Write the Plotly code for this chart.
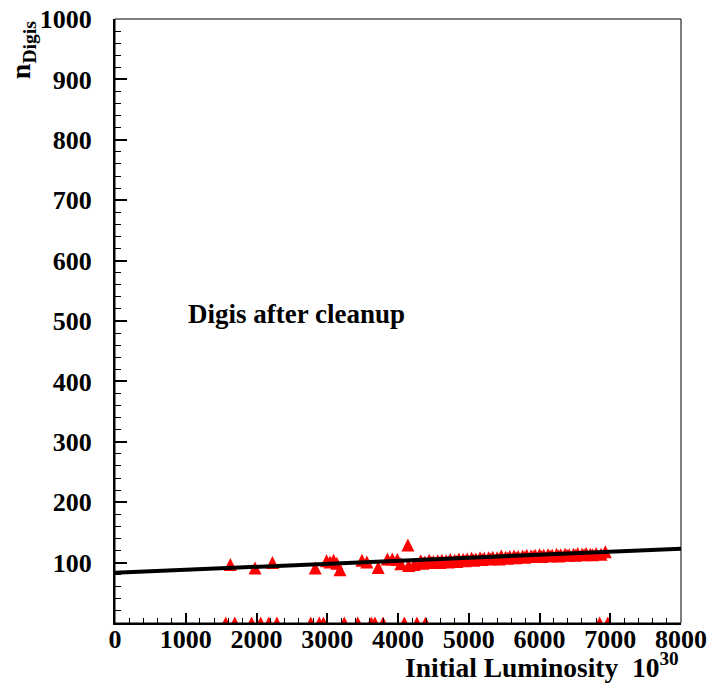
import plotly.graph_objects as go

# Initial luminosity (units of 10^30) and number of digits after cleanup
sparse_lumi = [1630, 1980, 2225, 2830, 2990, 3040, 3090, 3135, 3180, 3490, 3560,
               3720, 3850, 3920, 3990, 4040, 4140, 4150, 4230]
sparse_digis = [97, 91, 100, 91, 103, 101, 104, 99, 88, 104, 101,
                92, 106, 106, 105, 98, 129, 95, 97]

dense_lumi = [4320, 4380, 4440, 4500, 4560, 4620, 4680, 4740, 4800, 4860, 4920,
              4980, 5040, 5100, 5160, 5220, 5280, 5340, 5400, 5460, 5520, 5580,
              5640, 5700, 5760, 5820, 5880, 5940, 6000, 6060, 6120, 6180, 6240,
              6300, 6360, 6420, 6480, 6540, 6600, 6660, 6720, 6800, 6930]
dense_digis = [103, 101, 104, 102, 103, 104, 103, 105, 104, 106, 105,
               106, 107, 106, 108, 107, 108, 109, 108, 111, 109, 110,
               111, 110, 111, 112, 111, 112, 113, 112, 113, 112, 114,
               113, 114, 113, 114, 115, 114, 115, 114, 115, 118]

low_lumi = [4350, 4470, 4590, 4710, 4830, 4950, 5070, 5190, 5310, 5430, 5550,
            5670, 5790, 5910, 6030, 6150, 6270, 6390, 6510, 6630, 6750, 6870]
low_digis = [99, 100, 100, 101, 102, 103, 104, 105, 106, 106, 107,
             108, 109, 110, 110, 111, 111, 112, 112, 113, 113, 114]

zero_lumi = [1565, 1693, 1930, 2058, 2173, 2288, 2767, 2888, 2946, 3240, 3431,
             3623, 3674, 3789, 4089, 4268, 4390, 6850, 6965]
zero_digis = [0] * len(zero_lumi)

# Linear fit drawn across the full luminosity range
fit_lumi = [0, 8000]
fit_digis = [83, 123]

x_ticks = [0, 1000, 2000, 3000, 4000, 5000, 6000, 7000, 8000]
y_ticks = [100, 200, 300, 400, 500, 600, 700, 800, 900, 1000]

FONT = "Liberation Serif"
MSIZE = 13
marker = dict(symbol="arrow-down", angle=180, standoff=MSIZE / 2,
              size=MSIZE, color="#ff0000", line=dict(width=0))

fig = go.Figure()
for xs, ys in [(zero_lumi, zero_digis), (sparse_lumi, sparse_digis),
               (low_lumi, low_digis), (dense_lumi, dense_digis)]:
    fig.add_trace(go.Scatter(x=xs, y=ys, mode="markers", marker=marker,
                             cliponaxis=True, showlegend=False, hoverinfo="skip"))

fig.add_trace(go.Scatter(x=fit_lumi, y=fit_digis, mode="lines",
                         line=dict(color="black", width=4),
                         showlegend=False, hoverinfo="skip"))

axis_common = dict(showline=True, linecolor="black", linewidth=2,
                   ticks="inside", tickcolor="black", tickwidth=1.5,
                   showgrid=False, zeroline=False, automargin=False,
                   tickfont=dict(family=FONT, size=26, color="black", weight="bold"))

fig.update_xaxes(range=[0, 8000], tickvals=x_ticks, ticklen=10,
                 ticklabelstandoff=-8,
                 minor=dict(ticks="inside", ticklen=5, dtick=200, tick0=0,
                            tickcolor="black", tickwidth=1),
                 **axis_common)
fig.update_yaxes(range=[0, 1000], tickvals=y_ticks, ticklen=12,
                 ticklabelstandoff=16,
                 minor=dict(ticks="inside", ticklen=6, dtick=20, tick0=0,
                            tickcolor="black", tickwidth=1),
                 **axis_common)

fig.update_layout(
    width=710, height=685,
    margin=dict(l=115, r=29, t=19, b=62),
    paper_bgcolor="white", plot_bgcolor="white",
    shapes=[dict(type="rect", xref="paper", yref="paper", x0=0, x1=1, y0=0, y1=1,
                 line=dict(color="black", width=1), layer="above")],
    annotations=[
        dict(text="Digis after cleanup", x=1000, y=511, xref="x", yref="y",
             xanchor="left", yanchor="middle", showarrow=False,
             font=dict(family=FONT, size=27, color="black", weight="bold")),
        dict(text="Initial Luminosity&nbsp; 10<sup>30</sup>", x=1.0, y=-0.1026,
             xref="paper", yref="paper", xanchor="right", yanchor="bottom",
             showarrow=False,
             font=dict(family=FONT, size=27.5, color="black", weight="bold")),
        dict(text="n<sub>Digis</sub>", x=-0.164, y=1.0, xref="paper", yref="paper",
             xanchor="center", yanchor="top", textangle=-90, showarrow=False,
             font=dict(family=FONT, size=28, color="black", weight="bold")),
    ],
)

fig.write_html("out.html")
